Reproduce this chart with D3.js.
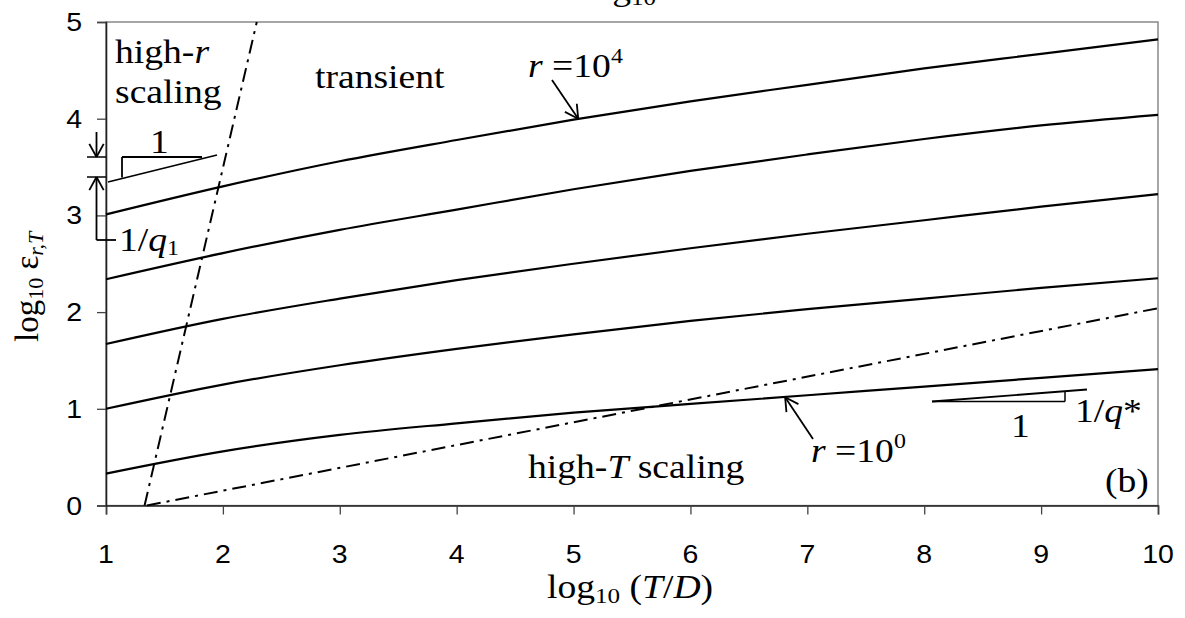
<!DOCTYPE html>
<html>
<head>
<meta charset="utf-8">
<script src="https://cdn.jsdelivr.net/npm/d3@7.9.0/dist/d3.min.js"></script>
<style>
  html, body { margin: 0; padding: 0; background: #fff; }
  svg { display: block; }
  .serif { font-family: "Liberation Serif", "Times New Roman", serif; }
  .sans { font-family: "Liberation Sans", Arial, sans-serif; }
</style>
</head>
<body>
<svg id="chart" width="1185" height="618"></svg>
<script>
// ---- data ----
const xTicks = [1, 2, 3, 4, 5, 6, 7, 8, 9, 10];
const yTicks = [0, 1, 2, 3, 4, 5];
const logT = [1, 2, 3, 4, 5, 6, 7, 8, 9, 10];

// log10 eps for r = 10^0 ... 10^4
const eps_r0 = [0.33, 0.56, 0.73, 0.85, 0.96, 1.05, 1.14, 1.23, 1.32, 1.41];
const eps_r1 = [1.00, 1.25, 1.45, 1.62, 1.77, 1.91, 2.03, 2.14, 2.25, 2.35];
const eps_r2 = [1.67, 1.93, 2.14, 2.33, 2.50, 2.66, 2.81, 2.95, 3.09, 3.22];
const eps_r3 = [2.34, 2.61, 2.85, 3.06, 3.27, 3.46, 3.63, 3.79, 3.93, 4.04];
const eps_r4 = [3.01, 3.30, 3.56, 3.78, 3.99, 4.18, 4.35, 4.52, 4.67, 4.82];
const curves = [eps_r0, eps_r1, eps_r2, eps_r3, eps_r4];

// regime boundaries (dash-dot)
const highTBound = [[1.35, 0], [10, 2.04]];
const highRBound = [[1.33, 0], [2.29, 5]];

// ---- layout ----
const svg = d3.select('#chart');
const x = d3.scaleLinear().domain([1, 10]).range([106, 1158]);
const y = d3.scaleLinear().domain([0, 5]).range([505.5, 22]);
const SX = 1.14; // the reference text is a bit wider than normal

// plot frame (top/right in grey)
svg.append('rect')
  .attr('x', x(1)).attr('y', y(5))
  .attr('width', x(10) - x(1)).attr('height', y(0) - y(5))
  .attr('fill', 'none').attr('stroke', '#777').attr('stroke-width', 1.3);

// axes
const xAxis = d3.axisBottom(x).tickValues(xTicks).tickSize(9).tickFormat('');
const yAxis = d3.axisLeft(y).tickValues(yTicks).tickSize(9).tickFormat('');
const gx = svg.append('g').attr('transform', `translate(0,${y(0)})`).call(xAxis);
const gy = svg.append('g').attr('transform', `translate(${x(1)},0)`).call(yAxis);
[gx, gy].forEach(g => {
  g.select('.domain').attr('stroke', '#222').attr('stroke-width', 1.6);
  g.selectAll('.tick line').attr('stroke', '#444').attr('stroke-width', 1.3);
});

// text helper: stretched horizontally like the reference
function put(parent, px, py, anchor) {
  return parent.append('g').attr('transform', `translate(${px},${py}) scale(${SX},1)`)
    .append('text').attr('text-anchor', anchor || 'start');
}
xTicks.forEach(v => {
  put(svg, x(v), 563, 'middle').attr('class', 'sans').attr('font-size', 25).text(v);
});
yTicks.forEach(v => {
  put(svg, 82, y(v) + 9, 'end').attr('class', 'sans').attr('font-size', 25).text(v);
});

// curves
const line = d3.line().x(d => x(d[0])).y(d => y(d[1])).curve(d3.curveMonotoneX);
curves.forEach(c => {
  svg.append('path')
    .datum(logT.map((t, i) => [t, c[i]]))
    .attr('d', line)
    .attr('fill', 'none').attr('stroke', '#000').attr('stroke-width', 2.2);
});

// dash-dot regime boundaries
const straight = d3.line().x(d => x(d[0])).y(d => y(d[1]));
[highTBound, highRBound].forEach(b => {
  svg.append('path').attr('d', straight(b))
    .attr('fill', 'none').attr('stroke', '#000').attr('stroke-width', 2)
    .attr('stroke-dasharray', '14,6,3,6');
});

// ---- annotations ----
function seg(x1, y1, x2, y2, w) {
  svg.append('line').attr('x1', x1).attr('y1', y1).attr('x2', x2).attr('y2', y2)
    .attr('stroke', '#000').attr('stroke-width', w || 1.8);
}
function arrow(x1, y1, x2, y2) {
  seg(x1, y1, x2, y2);
  const a = Math.atan2(y2 - y1, x2 - x1), L = 15, s = 0.5;
  seg(x2, y2, x2 - L * Math.cos(a - s), y2 - L * Math.sin(a - s));
  seg(x2, y2, x2 - L * Math.cos(a + s), y2 - L * Math.sin(a + s));
}

// r = 10^4 label and arrow
let t = put(svg, 528, 77).attr('class', 'serif').attr('font-size', 33);
t.append('tspan').attr('font-style', 'italic').text('r');
t.append('tspan').text(' =10');
t.append('tspan').attr('font-size', 21).attr('dy', -14).text('4');
arrow(552, 80, x(5.04), y(4.0));

// r = 10^0 label and arrow
t = put(svg, 811, 462).attr('class', 'serif').attr('font-size', 33);
t.append('tspan').attr('font-style', 'italic').text('r');
t.append('tspan').text(' =10');
t.append('tspan').attr('font-size', 21).attr('dy', -14).text('0');
arrow(813, 439, x(6.81), y(1.12));

// region names
t = put(svg, 115, 63).attr('class', 'serif').attr('font-size', 33);
t.append('tspan').text('high-');
t.append('tspan').attr('font-style', 'italic').text('r');
put(svg, 115, 103).attr('class', 'serif').attr('font-size', 33).text('scaling');
put(svg, 315, 88).attr('class', 'serif').attr('font-size', 33).text('transient');
t = put(svg, 528, 478).attr('class', 'serif').attr('font-size', 33);
t.append('tspan').text('high-');
t.append('tspan').attr('font-style', 'italic').text('T');
t.append('tspan').text(' scaling');
put(svg, 1105, 492).attr('class', 'serif').attr('font-size', 33).text('(b)');

// slope triangle at top left (1 : 1/q1)
seg(108, 182, 217, 155);
seg(122, 157, 202, 157);
seg(122, 157, 122, 177.5);
put(svg, 150, 153).attr('class', 'serif').attr('font-size', 33).text('1');
// vertical bracket with arrows
seg(87, 157, 106, 157, 1.5);
seg(87, 177, 106, 177, 1.5);
arrow(96.5, 132, 96.5, 157);
arrow(96.5, 240, 96.5, 177);
seg(96.5, 240, 116, 240, 1.8);
t = put(svg, 119, 251).attr('class', 'serif').attr('font-size', 33);
t.append('tspan').text('1/');
t.append('tspan').attr('font-style', 'italic').text('q');
t.append('tspan').attr('font-size', 21).attr('dy', 4).text('1');

// slope triangle at bottom right (1 : 1/q*)
seg(932, 401.5, 1087, 389.5);
seg(932, 401.5, 1065, 401.5, 1.5);
seg(1065, 401.5, 1065, 391, 1.5);
put(svg, 1011, 437).attr('class', 'serif').attr('font-size', 33).text('1');
t = put(svg, 1075, 422).attr('class', 'serif').attr('font-size', 33);
t.append('tspan').text('1/');
t.append('tspan').attr('font-style', 'italic').text('q');
t.append('tspan').text('*');

// axis titles
t = put(svg, 547, 598).attr('class', 'serif').attr('font-size', 33);
t.append('tspan').text('log');
t.append('tspan').attr('font-size', 22).attr('dy', 5).text('10');
t.append('tspan').attr('dy', -5).text(' (');
t.append('tspan').attr('font-style', 'italic').text('T');
t.append('tspan').text('/');
t.append('tspan').attr('font-style', 'italic').text('D');
t.append('tspan').text(')');

const yt = svg.append('g').attr('transform', 'translate(38,342) rotate(-90)')
  .append('text').attr('class', 'serif').attr('font-size', 33);
yt.append('tspan').text('log');
yt.append('tspan').attr('font-size', 22).attr('dy', 5).text('10');
yt.append('tspan').attr('dy', -5).text(' ε');
yt.append('tspan').attr('font-size', 22).attr('font-style', 'italic').attr('dy', 5).text('r,T');

// remnant of the panel title above, cut by the top edge
t = put(svg, 583, 0).attr('class', 'serif').attr('font-size', 33);
t.append('tspan').text('log');
t.append('tspan').attr('font-size', 22).attr('dy', 5).text('10');
</script>
</body>
</html>
